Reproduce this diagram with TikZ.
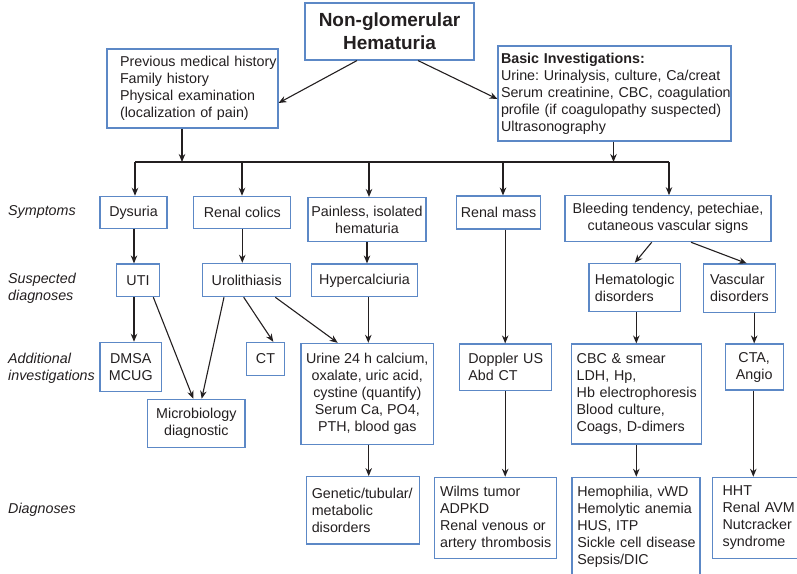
\documentclass[tikz,border=0pt]{standalone}
\usepackage{fontspec}
\setmainfont{Liberation Sans}
\usetikzlibrary{arrows.meta,calc}
\definecolor{boxblue}{RGB}{92,136,198}
\definecolor{ink}{RGB}{35,31,32}
\newcommand\lpad[1]{\frenchspacing\leftskip=#1pt\relax\rightskip=-30pt plus 1fil\relax}
\begin{document}
\begin{tikzpicture}[x=1pt,y=-1pt,
  box/.style={draw=boxblue, line width=1.1pt, inner sep=0pt, align=center, text=ink, font=\fontsize{14.3}{17}\selectfont\frenchspacing},
  lbox/.style={box, align=left},
  lab/.style={anchor=west, align=left, text=ink, font=\fontsize{14.3}{17}\selectfont\itshape, inner sep=0pt},
  arr/.style={draw=ink, line width=1.1pt, -{Stealth[length=8pt,width=6.5pt]}},
  ln/.style={draw=ink, line width=1.1pt}]
\useasboundingbox (0,0) rectangle (797,573);
\clip (0,0) rectangle (797,573);

% top
\node[box, minimum width=169pt, minimum height=57pt, font=\fontsize{19}{23}\selectfont\bfseries] (title) at (389.5,31.5) {Non-glomerular\\Hematuria};
\node[lbox, text width=171pt, minimum height=79pt] (hist) at (192.5,88.5) {\lpad{13}Previous medical history\\Family history\\Physical examination\\(localization of pain)\par};
\node[lbox, text width=233pt, minimum height=95pt] (basic) at (614.5,93.5) {\lpad{3}\textbf{Basic Investigations:}\\Urine: Urinalysis, culture, Ca/creat\\Serum creatinine, CBC, coagulation\\profile (if coagulopathy suspected)\\Ultrasonography\par};

% labels
\node[lab] (l1) at (8,212.3) {Symptoms};
\node[lab] (l2) at (8,288) {Suspected\\diagnoses};
\node[lab] (l3) at (8,368.7) {Additional\\investigations};
\node[lab] (l4) at (8,509.3) {Diagnoses};

% row 1
\node[box, minimum width=67pt, minimum height=32pt] (dys) at (133.5,212.3) {Dysuria};
\node[box, minimum width=97pt, minimum height=32pt] (col) at (242.3,212.3) {Renal colics};
\node[box, minimum width=118pt, minimum height=44pt] (pain) at (367,219.5) {Painless, isolated\\hematuria};
\node[box, minimum width=84pt, minimum height=33pt] (mass) at (498.5,212.5) {Renal mass};
\node[box, minimum width=206pt, minimum height=46pt] (bleed) at (668,218.7) {Bleeding tendency, petechiae,\\cutaneous vascular signs};

% row 2
\node[box, minimum width=43.4pt, minimum height=32.7pt] (uti) at (138,280.3) {UTI};
\node[box, minimum width=88pt, minimum height=33.4pt] (uro) at (246.7,280) {Urolithiasis};
\node[box, minimum width=105.6pt, minimum height=32.7pt] (hyp) at (364.5,280.3) {Hypercalciuria};
\node[lbox, text width=91.7pt, minimum height=48.4pt] (hem) at (634.8,287.5) {\lpad{6}Hematologic\\disorders\par};
\node[lbox, text width=72.3pt, minimum height=48.7pt] (vas) at (739.2,288.3) {\lpad{7}Vascular\\disorders\par};

% row 3
\node[box, minimum width=61.7pt, minimum height=49.4pt] (dmsa) at (130.8,367) {DMSA\\MCUG};
\node[box, minimum width=37.6pt, minimum height=32.7pt] (ct) at (265.5,358.7) {CT};
\node[box, minimum width=132.7pt, minimum height=100.7pt] (urine) at (367.3,393.7) {Urine 24 h calcium,\\oxalate, uric acid,\\cystine (quantify)\\Serum Ca, PO4,\\PTH, blood gas};
\node[box, minimum width=97.3pt, minimum height=48pt] (micro) at (196.3,423.3) {Microbiology\\diagnostic};
\node[lbox, text width=91.7pt, minimum height=46.7pt] (dop) at (505.2,367.3) {\lpad{9}Doppler US\\Abd CT\par};
\node[lbox, text width=130pt, minimum height=100pt] (cbc) at (636.3,394) {\lpad{5.4}CBC \& smear\\LDH, Hp,\\Hb electrophoresis\\Blood culture,\\Coags, D-dimers\par};
\node[box, minimum width=58.3pt, minimum height=46pt] (cta) at (754.2,367) {CTA,\\Angio};

% row 4
\node[lbox, text width=113.3pt, minimum height=67.3pt] (gen) at (362.7,510.3) {\lpad{5.7}Genetic/tubular/\\metabolic\\disorders\par};
\node[lbox, text width=122.3pt, minimum height=81pt] (wil) at (495.5,517.8) {\lpad{5.7}Wilms tumor\\ADPKD\\Renal venous or\\artery thrombosis\par};
\node[lbox, text width=128pt, minimum height=98.8pt] (hemo) at (636,526.7) {\lpad{5.3}Hemophilia, vWD\\Hemolytic anemia\\HUS, ITP\\Sickle cell disease\\Sepsis/DIC\par};
\node[lbox, text width=88.3pt, minimum height=81pt] (hht) at (756.8,517.8) {\lpad{10}HHT\\Renal AVM\\Nutcracker\\syndrome\par};

% bus
\coordinate (hb) at (182,162);
\coordinate (bb) at (613.5,162);
\coordinate (b1) at (135,162);
\coordinate (b2) at (242,162);
\coordinate (b3) at (369,162);
\coordinate (b4) at (503,162);
\coordinate (b5) at (669,162);

% connectors top
\draw[arr] ([xshift=-32.5pt]title.south) -- ([yshift=-14.5pt]hist.east);
\draw[arr] ([xshift=28.5pt]title.south) -- ([yshift=-5.5pt]basic.west);
\draw[arr] (hb |- hist.south) -- (hb);
\draw[arr] (bb |- basic.south) -- (bb);
\draw[ln] (b1) -- (b5);
\draw[arr] (b1) -- (b1 |- dys.north);
\draw[arr] (b2) -- (b2 |- col.north);
\draw[arr] (b3) -- (b3 |- pain.north);
\draw[arr] (b4) -- (b4 |- mass.north);
\draw[arr] (b5) -- (b5 |- bleed.north);

% row 1 -> 2
\draw[arr] ([xshift=0.5pt]dys.south) -- ([xshift=0.5pt]dys.south |- uti.north);
\draw[arr] (col.south) -- (col.south |- uro.north);
\draw[arr] (pain.south) -- (pain.south |- hyp.north);
\draw[arr] ([xshift=-16.3pt]bleed.south) -- (hem.north);
\draw[arr] ([xshift=23pt]bleed.south) -- ([xshift=7.5pt]vas.north);

% row 2 -> 3
\draw[arr] ([xshift=-4pt]uti.south) -- ([xshift=-4pt]uti.south |- dmsa.north);
\draw[arr] ([xshift=-3pt]uro.south) -- ([xshift=7.8pt]ct.north);
\draw[arr] ([xshift=28.6pt]uro.south) -- ([xshift=-29.6pt]urine.north);
\draw[arr] ([xshift=3.8pt]hyp.south) -- ([xshift=3.8pt]hyp.south |- urine.north);
\draw[arr] ([xshift=15.3pt]uti.south) -- ([xshift=-3pt]micro.north);
\draw[arr] ([xshift=-22.7pt]uro.south) -- ([xshift=5.4pt]micro.north);
\draw[arr] (dop.north |- mass.south) -- (dop.north);
\draw[arr] (cbc.north |- hem.south) -- (cbc.north);
\draw[arr] (cta.north |- vas.south) -- (cta.north);

% row 3 -> 4
\draw[arr] ([xshift=1.4pt]urine.south) -- ([xshift=1.4pt]urine.south |- gen.north);
\draw[arr] (dop.south) -- (dop.south |- wil.north);
\draw[arr] (cbc.south) -- (cbc.south |- hemo.north);
\draw[arr] ([xshift=-0.9pt]cta.south) -- ([xshift=-0.9pt]cta.south |- hht.north);
\end{tikzpicture}
\end{document}
